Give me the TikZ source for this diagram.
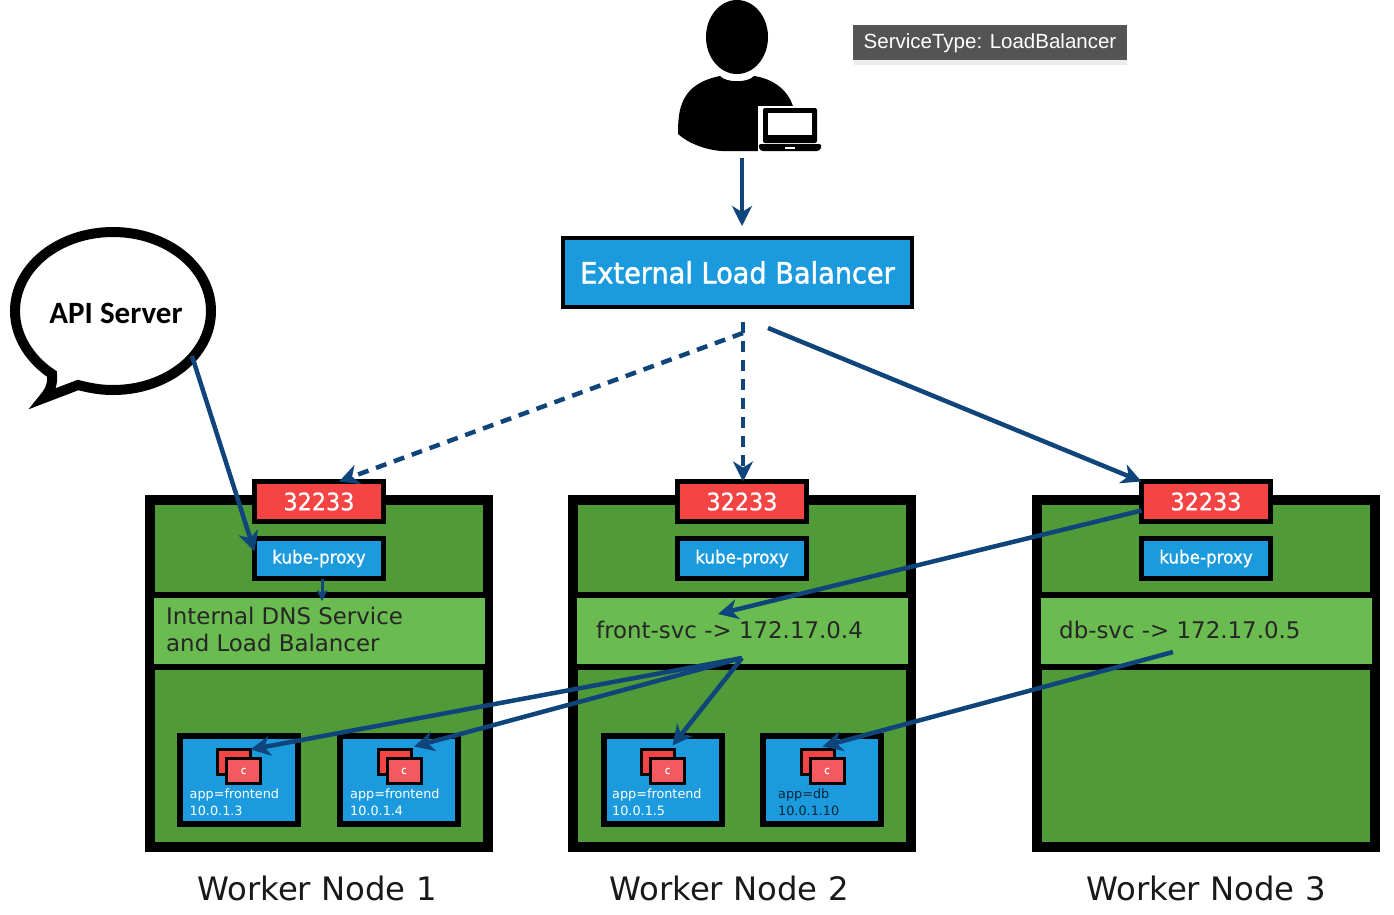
\documentclass[tikz,border=0pt]{standalone}
\usepackage{fontspec}
\setmainfont{DejaVu Sans}
\newfontfamily\tipfont{Liberation Sans}
\newfontfamily\bubblefont{Carlito}
\newfontfamily\boxfont[FakeStretch=0.93,FakeBold=0.8]{DejaVu Sans}
\newfontfamily\elbfont[FakeStretch=0.93,FakeBold=1.5]{DejaVu Sans}
\usetikzlibrary{arrows.meta,positioning,shadows}
\definecolor{k8sblue}{RGB}{27,155,221}
\definecolor{k8sred}{RGB}{245,68,68}
\definecolor{k8spink}{RGB}{243,90,96}
\definecolor{k8sgreen}{RGB}{81,154,56}
\definecolor{k8slight}{RGB}{106,187,80}
\definecolor{arblue}{RGB}{15,69,122}

\begin{document}
\begin{tikzpicture}[
    x=1pt,y=-1pt,
    worker/.style={draw=black,fill=k8sgreen,line width=10pt,outer sep=0pt,inner sep=0pt,
                   minimum width=338pt,minimum height=347pt},
    port/.style={draw=black,fill=k8sred,line width=5pt,outer sep=0pt,text=white,
                 minimum width=129pt,minimum height=40pt,font=\boxfont\fontsize{24}{28}\selectfont},
    proxy/.style={draw=black,fill=k8sblue,line width=5pt,outer sep=0pt,text=white,
                  minimum width=129pt,minimum height=40pt,font=\boxfont\fontsize{18}{22}\selectfont},
    svc/.style={draw=black,fill=k8slight,line width=6pt,outer sep=0pt,inner sep=0pt,
                minimum width=337pt,minimum height=72pt},
    svctext/.style={align=left,anchor=west,inner sep=0pt,text=black!85,
                    font=\fontsize{22.9}{27}\selectfont},
    pod/.style={draw=black,fill=k8sblue,line width=6pt,outer sep=0pt,
                minimum width=118pt,minimum height=88pt},
    ctrback/.style={draw=black,fill=k8sred,line width=3pt,outer sep=0pt,
                    minimum width=33pt,minimum height=25pt},
    ctrfront/.style={draw=black,fill=k8spink,line width=3pt,outer sep=0pt,inner sep=0pt,text=white,
                     minimum width=34pt,minimum height=25pt,font=\boxfont\fontsize{11}{11}\selectfont},
    podtext/.style={align=left,anchor=west,inner sep=0pt,text=white,
                    font=\fontsize{12.8}{17}\selectfont},
    wlabel/.style={text=black!90,font=\fontsize{32.3}{36}\selectfont},
    ar/.style={-{Stealth[length=20pt,width=20pt,inset=6pt]},arblue,line width=4.5pt},
    dar/.style={ar,dash pattern=on 11pt off 8pt},
    smallar/.style={-{Stealth[length=11pt,width=11pt,inset=3pt]},arblue,line width=3pt}
  ]
  \useasboundingbox (0,0) rectangle (1394,914);

  % user with laptop
  \fill[black] (720,76) .. controls (726,83) and (748,83) .. (754,76)
    .. controls (775,79) and (790,92) .. (794,110) -- (770,151) -- (722,151)
    .. controls (705,150) and (688,143) .. (678,134)
    .. controls (678,110) and (680,84) .. (720,76) -- cycle;
  \fill[black] (737,37) ellipse[x radius=31,y radius=37];
  \fill[white] (758,106) rectangle (824,153);
  \fill[black,rounded corners=2pt] (763,108) rectangle (817,143);
  \fill[white] (768,113) rectangle (812,135);
  \fill[black,rounded corners=3pt] (758,144) -- (822,144) -- (820,151) -- (760,151) -- cycle;
  \fill[white] (785,146.5) rectangle (795,148.5);
  \coordinate (user) at (742,158);

  \node[draw=black!65,fill=black!67,minimum width=273pt,minimum height=34pt,inner sep=0pt,
        text=white,text height=15pt,text depth=4pt,
        drop shadow={shadow xshift=0pt,shadow yshift=-5pt,opacity=.15},
        font=\tipfont\fontsize{20.5}{24}\selectfont] (svctype) at (990,42.5) {ServiceType: LoadBalancer};

  \node[draw=black,fill=k8sblue,line width=4pt,outer sep=0pt,text=white,
        minimum width=349pt,minimum height=69pt,
        font=\elbfont\fontsize{29.2}{34}\selectfont] (elb) at (737.5,272.5) {External Load Balancer};

  % api server bubble
  \draw[line width=10pt,fill=white,miter limit=12] (78,385)
    .. controls (90,388) and (100,390) .. (113,390)
    .. controls (167,390) and (211,355) .. (211,311)
    .. controls (211,267) and (167,232) .. (113,232)
    .. controls (59,232) and (15,267) .. (15,311)
    .. controls (15,338) and (32,361) .. (52,374)
    .. controls (53,384) and (50,391) .. (44,398) -- cycle;
  \node[inner sep=0pt,font=\bubblefont\bfseries\fontsize{31}{34}\selectfont] (api) at (116,313) {API Server};
  \coordinate (apiout) at (192,356);

  % worker nodes
  \node[worker] (wn1) at (319,673) {};
  \node[worker] (wn2) at (742,673) {};
  \node[worker] (wn3) at (1206,673) {};

  \node[port] (port1) at (319,501.5) {32233};
  \node[port] (port2) at (742,501.5) {32233};
  \node[port] (port3) at (1206,501.5) {32233};

  \node[proxy,below=17pt of port1] (kube1) {kube-proxy};
  \node[proxy,below=17pt of port2] (kube2) {kube-proxy};
  \node[proxy,below=17pt of port3] (kube3) {kube-proxy};

  \node[svc] (svc1) at (319,631) {};
  \node[svc] (svc2) at (742,631) {};
  \node[svc] (svc3) at (1206,631) {};
  \node[svctext] (dns) at (166,629.5) {Internal DNS Service\\and Load Balancer};
  \node[svctext] (front) at (596,630) {front-svc -> 172.17.0.4};
  \node[svctext] (db) at (1059,630) {db-svc -> 172.17.0.5};

  % pods
  \node[pod] (pod1) at (238.5,780) {};
  \node[pod] (pod2) at (399,780) {};
  \node[pod] (pod3) at (662.5,780) {};
  \node[pod] (pod4) at (822,780) {};

  \node[ctrback] (back1) at ([xshift=-4.5pt,yshift=18pt]pod1.center) {};
  \node[ctrback] (back2) at ([xshift=-4.5pt,yshift=18pt]pod2.center) {};
  \node[ctrback] (back3) at ([xshift=-4.5pt,yshift=18pt]pod3.center) {};
  \node[ctrback] (back4) at ([xshift=-4.5pt,yshift=18pt]pod4.center) {};
  \node[ctrfront] (ctr1) at ([xshift=9.5pt,yshift=-9pt]back1.center) {c};
  \node[ctrfront] (ctr2) at ([xshift=9.5pt,yshift=-9pt]back2.center) {c};
  \node[ctrfront] (ctr3) at ([xshift=9.5pt,yshift=-9pt]back3.center) {c};
  \node[ctrfront] (ctr4) at ([xshift=9.5pt,yshift=-9pt]back4.center) {c};

  \node[podtext] (app1) at ([xshift=-49pt,yshift=-22.5pt]pod1.center) {app=frontend\\10.0.1.3};
  \node[podtext] (app2) at ([xshift=-49pt,yshift=-22.5pt]pod2.center) {app=frontend\\10.0.1.4};
  \node[podtext] (app3) at ([xshift=-50.5pt,yshift=-22.5pt]pod3.center) {app=frontend\\10.0.1.5};
  \node[podtext,text=black!75!k8sblue] (app4) at ([xshift=-44pt,yshift=-22.5pt]pod4.center) {app=db\\10.0.1.10};

  \node[wlabel] (wl1) at (317,888) {Worker Node 1};
  \node[wlabel] (wl2) at (729,888) {Worker Node 2};
  \node[wlabel] (wl3) at (1206,888) {Worker Node 3};

  % connectors
  \coordinate (elbmid) at (743,322);
  \coordinate (elbdiag) at (743,333);
  \coordinate (elbright) at (768,328);
  \coordinate (dbout) at (1173,652);
  \coordinate (frontin) at (718,614);

  \draw[ar] (user) -- ([yshift=12pt]elb.north -| user);
  \draw[dar] (elbdiag) -- ([xshift=20pt]port1.north);
  \draw[dar] (elbmid) -- (elbmid |- port2.north);
  \draw[ar] (elbright) -- (port3.north west);
  \draw[ar] (apiout) -- ([yshift=7pt]kube1.west);
  \draw[smallar] ([xshift=3pt]kube1.south) -- ([xshift=3pt,yshift=30pt]svc1.center);
  \draw[ar] ([yshift=-9pt]port3.west) -- (frontin);
  \draw[ar] ([yshift=-27pt]svc2.center) -- (back1.north east);
  \draw[ar] ([yshift=-27pt]svc2.center) -- ([xshift=3pt,yshift=3pt]back2.north east);
  \draw[ar] ([yshift=-27pt]svc2.center) -- ([xshift=-2pt,yshift=4pt]back3.north east);
  \draw[ar] (dbout) -- ([xshift=5pt,yshift=3pt]back4.north);
\end{tikzpicture}
\end{document}
